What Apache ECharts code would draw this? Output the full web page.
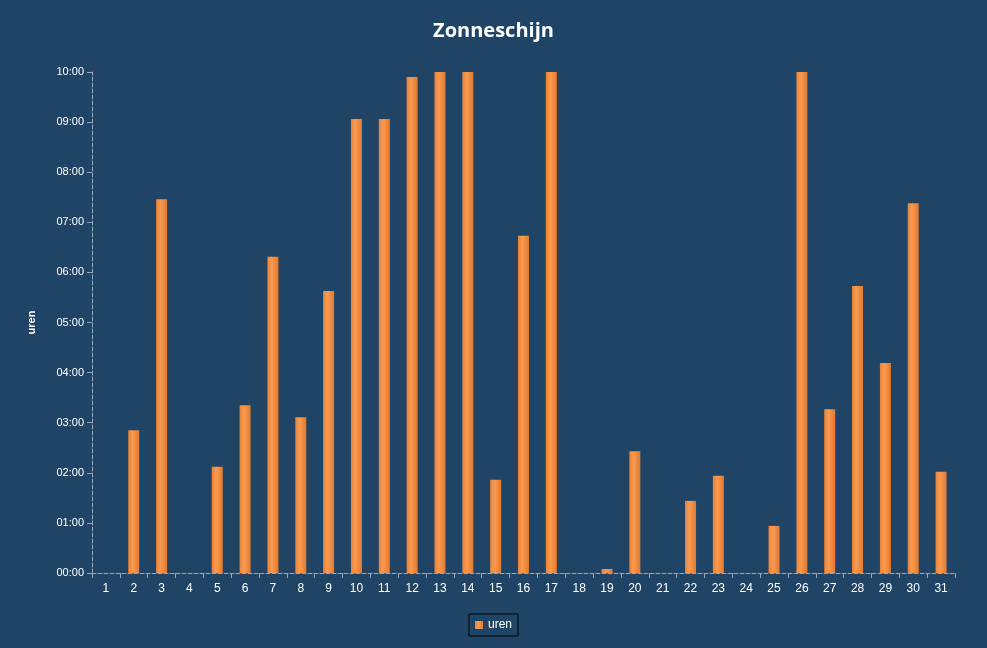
<!DOCTYPE html>
<html><head><meta charset="utf-8">
<script src="https://cdn.jsdelivr.net/npm/echarts@6/dist/echarts.min.js"></script>
<style>html,body{margin:0;padding:0;background:#fff}#c{width:987px;height:648px}</style>
</head><body><div id="c"></div>
<script>
const days = ['1','2','3','4','5','6','7','8','9','10','11','12','13','14','15','16','17','18','19','20','21','22','23','24','25','26','27','28','29','30','31'];
const uren = [0,2.85,7.46,0,2.12,3.35,6.31,3.11,5.63,9.06,9.06,9.9,10,10,1.86,6.73,10,0,0.08,2.43,0,1.44,1.94,0,0.94,10,3.27,5.73,4.19,7.38,2.02];
const yTicks = ['00:00','01:00','02:00','03:00','04:00','05:00','06:00','07:00','08:00','09:00','10:00'];
const chart = echarts.init(document.getElementById('c'));
chart.setOption({
  backgroundColor: '#1F4466',
  animation: false,
  title: { text: 'Zonneschijn', left: 'center', top: 16,
    textStyle: { color: '#fff', fontSize: 20, fontWeight: 'bold', fontFamily: 'Open Sans' } },
  legend: { bottom: 12, left: 'center', itemWidth: 8, itemHeight: 8, icon: 'rect',
    borderColor: '#000', borderWidth: 1, padding: [5, 6],
    textStyle: { color: '#fff', fontSize: 12 }, data: ['uren'] },
  grid: { left: 92, right: 32, top: 72, bottom: 75 },
  xAxis: { type: 'category', data: days,
    axisLine: { lineStyle: { color: '#9aa7b4', type: 'dashed' } },
    axisTick: { show: true, lineStyle: { color: '#9aa7b4' } },
    axisLabel: { color: '#fff', fontSize: 12, margin: 10 } },
  yAxis: { type: 'value', min: 0, max: 10, interval: 1,
    name: 'uren', nameLocation: 'middle', nameGap: 55, nameRotate: 90,
    nameTextStyle: { color: '#fff', fontSize: 11, fontWeight: 'bold' },
    axisLine: { show: true, lineStyle: { color: '#9aa7b4', type: 'dashed' } },
    axisTick: { show: true, lineStyle: { color: '#9aa7b4' } },
    splitLine: { show: false },
    axisLabel: { color: '#fff', fontSize: 11, formatter: v => yTicks[Math.round(v)] } },
  series: [{ name: 'uren', type: 'bar', data: uren, barWidth: 11,
    itemStyle: { color: new echarts.graphic.LinearGradient(0,0,1,0,[
      {offset:0,color:'#E8833A'},{offset:0.4,color:'#FA9A50'},{offset:1,color:'#E07A30'}]),
      borderWidth: 0 } }]
});
</script></body></html>
